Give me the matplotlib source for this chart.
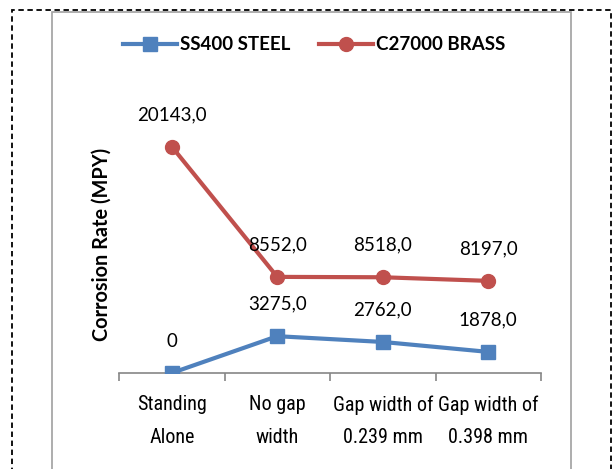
import numpy as np
import matplotlib
matplotlib.use('Agg')
import matplotlib.pyplot as plt
from matplotlib import font_manager
from matplotlib.patches import Rectangle

categories = ['Standing\nAlone', 'No gap\nwidth', 'Gap width of\n0.239 mm', 'Gap width of\n0.398 mm']
steel = [0, 3275, 2762, 1878]
brass = [20143, 8552, 8518, 8197]
steel_labels = ['0', '3275,0', '2762,0', '1878,0']
brass_labels = ['20143,0', '8552,0', '8518,0', '8197,0']

blue = '#4F81BD'
red = '#C0504D'

# narrow font for the category labels, if there is one
tick_font, tick_size = 'Roboto', 12.3
for name, size in [('Roboto Condensed', 14.5), ('DejaVu Sans Condensed', 13.6)]:
    try:
        font_manager.findfont(name, fallback_to_default=False)
        tick_font, tick_size = name, size
        break
    except ValueError:
        pass

fig = plt.figure(figsize=(6.13, 4.69), dpi=100)
ax = fig.add_axes([119/613, 96/469, 422/613, 281/469])

x = np.arange(len(categories))
l1, = ax.plot(x, steel, color=blue, lw=3, marker='s', ms=10, label='SS400 STEEL', zorder=3)
l2, = ax.plot(x, brass, color=red, lw=3, marker='o', ms=10, label='C27000 BRASS', zorder=3)

for xi, v, t in zip(x, steel, steel_labels):
    ax.annotate(t, (xi, v), xytext=(0, 32), textcoords='offset pixels',
                ha='center', va='center', fontsize=13.5, family='Lato')
for xi, v, t in zip(x, brass, brass_labels):
    ax.annotate(t, (xi, v), xytext=(0, 32), textcoords='offset pixels',
                ha='center', va='center', fontsize=13.5, family='Lato')

ax.set_xlim(-0.5, 3.5)
ax.set_ylim(0, 25000)
ax.set_yticks([])
for s in ['top', 'right', 'left']:
    ax.spines[s].set_visible(False)
ax.spines['bottom'].set_color('#868686')
ax.spines['bottom'].set_linewidth(1.2)

ax.set_xticks(np.arange(-0.5, 4, 1))
ax.set_xticklabels([])
ax.set_xticks(x, minor=True)
ax.set_xticklabels(categories, minor=True, fontsize=tick_size,
                   family=[tick_font, 'DejaVu Sans'], linespacing=1.9)
ax.tick_params(axis='x', which='major', length=6, color='#868686', width=1.2, direction='out')
ax.tick_params(axis='x', which='minor', length=0, pad=16)

fig.text(102/613, 1 - 244/469, 'Corrosion Rate (MPY)', rotation=90, ha='center', va='center',
         fontsize=14.3, fontweight='bold', family='Lato')

fig.legend(handles=[l1, l2], loc='center', bbox_to_anchor=(314/613, 1 - 45/469),
           ncol=2, frameon=False, prop={'family': 'Lato', 'weight': 'bold', 'size': 13.5},
           handlelength=2.9, handletextpad=0.15, columnspacing=1.5)

# frames
fig.patches.append(Rectangle((12/613, -0.1), 599/613, 1.1 - 10/469, transform=fig.transFigure,
                             fill=False, ec='black', lw=1.3, ls=(0, (3, 2)), clip_on=False))
fig.patches.append(Rectangle((52/613, -0.1), 519/613, 1.1 - 12/469, transform=fig.transFigure,
                             fill=False, ec='#A0A0A0', lw=1.2, clip_on=False))

fig.savefig('out.png', dpi=100)
